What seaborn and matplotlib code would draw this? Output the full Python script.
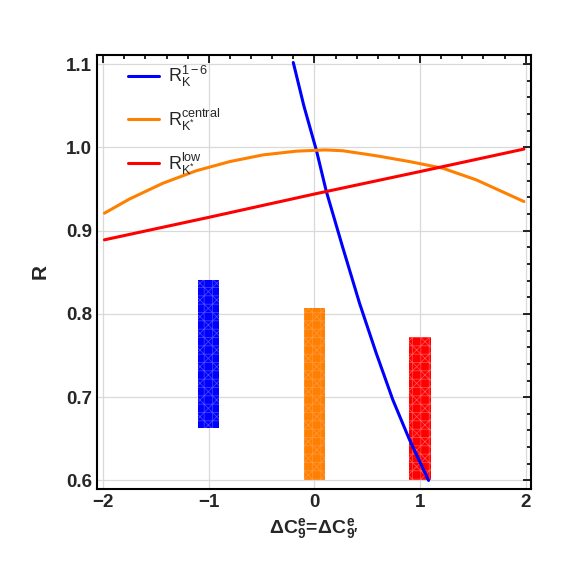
import numpy as np
import pandas as pd
import seaborn as sns

import matplotlib
matplotlib.use('Agg')

import matplotlib.pyplot as plt
from matplotlib.ticker import MultipleLocator, FormatStrFormatter

# curve samples
blue_x = [-0.2, -0.1, 0.02, 0.111, 0.268, 0.427, 0.585, 0.742, 0.900, 1.081]
blue_y = [1.102, 1.050, 0.996, 0.948, 0.880, 0.813, 0.753, 0.697, 0.649, 0.600]

orange_x = [-1.988, -1.751, -1.434, -1.118, -0.80, -0.486, -0.17, 0.1,
            0.268, 0.585, 0.90, 1.216, 1.533, 1.984]
orange_y = [0.921, 0.938, 0.957, 0.972, 0.983, 0.991, 0.9955, 0.997,
            0.996, 0.990, 0.983, 0.975, 0.961, 0.935]

red_x = [-1.988, -1.0, 0.0, 1.0, 1.984]
red_y = [0.889, 0.916, 0.944, 0.971, 0.998]

# experimental bands
band_x = [-1, 0, 1]
band_low = [0.663, 0.601, 0.600]
band_high = [0.841, 0.807, 0.772]

labels = [r'$\mathrm{R}_{\mathrm{K}}^{1-6}$',
          r'$\mathrm{R}_{\mathrm{K^{*}}}^{\mathrm{central}}$',
          r'$\mathrm{R}_{\mathrm{K^{*}}}^{\mathrm{low}}$']
colors = ['#0000ff', '#ff8000', '#ff0000']
mesh = [(0.3, 0.3, 1.0), (1.0, 0.6, 0.25), (1.0, 0.35, 0.35)]

sns.set_style('white')
plt.rcParams['font.family'] = ['Liberation Sans', 'DejaVu Sans']
plt.rcParams['mathtext.fontset'] = 'custom'
plt.rcParams['mathtext.rm'] = 'Liberation Sans'
plt.rcParams['mathtext.it'] = 'Liberation Sans:italic'
plt.rcParams['mathtext.bf'] = 'Liberation Sans:bold'
plt.rcParams['hatch.linewidth'] = 0.5

df = pd.concat([
    pd.DataFrame({'x': blue_x, 'R': blue_y, 'curve': labels[0]}),
    pd.DataFrame({'x': orange_x, 'R': orange_y, 'curve': labels[1]}),
    pd.DataFrame({'x': red_x, 'R': red_y, 'curve': labels[2]}),
])

fig = plt.figure(figsize=(5.63, 5.67), dpi=100)
ax = fig.add_axes([0.172, 0.138, 0.771, 0.765])

# bands with a light mesh on top
for x, lo, hi, c, mc in zip(band_x, band_low, band_high, colors, mesh):
    ax.bar(x, hi - lo, bottom=lo, width=0.2, color=c, edgecolor=mc,
           linewidth=0, hatch='++xx', zorder=2)

sns.lineplot(data=df, x='x', y='R', hue='curve', palette=colors,
             sort=False, linewidth=2.2, ax=ax, zorder=3)

ax.set_xlim(-2.06, 2.05)
ax.set_ylim(0.590, 1.111)
ax.set_xticks([-2, -1, 0, 1, 2])
ax.set_yticks([0.6, 0.7, 0.8, 0.9, 1.0, 1.1])
ax.yaxis.set_major_formatter(FormatStrFormatter('%.1f'))
ax.xaxis.set_minor_locator(MultipleLocator(0.2))
ax.yaxis.set_minor_locator(MultipleLocator(0.02))
ax.tick_params(which='both', direction='in', top=True, right=True,
               color='black', width=1.2)
ax.tick_params(which='major', length=6, labelsize=13.5)
ax.tick_params(which='minor', length=3)
for lab in ax.get_xticklabels() + ax.get_yticklabels():
    lab.set_fontweight('bold')
ax.grid(True, which='major', color='#d9d9d9', linewidth=0.9, zorder=0)
ax.set_axisbelow(True)
for s in ax.spines.values():
    s.set_linewidth(1.5)
    s.set_color('black')

ax.set_xlabel(r"$\mathbf{\Delta C^{e}_{9}\!=\!\Delta C^{e}_{9\prime}}$", fontsize=14)
ax.set_ylabel('R', fontsize=15, fontweight='bold', labelpad=12)

ax.legend(loc='upper left', bbox_to_anchor=(0.034, 1.017), frameon=False,
          fontsize=13, labelspacing=0.95, handlelength=1.7, handletextpad=0.5,
          title=None)

plt.savefig('out.png', dpi=100)
plt.close()
